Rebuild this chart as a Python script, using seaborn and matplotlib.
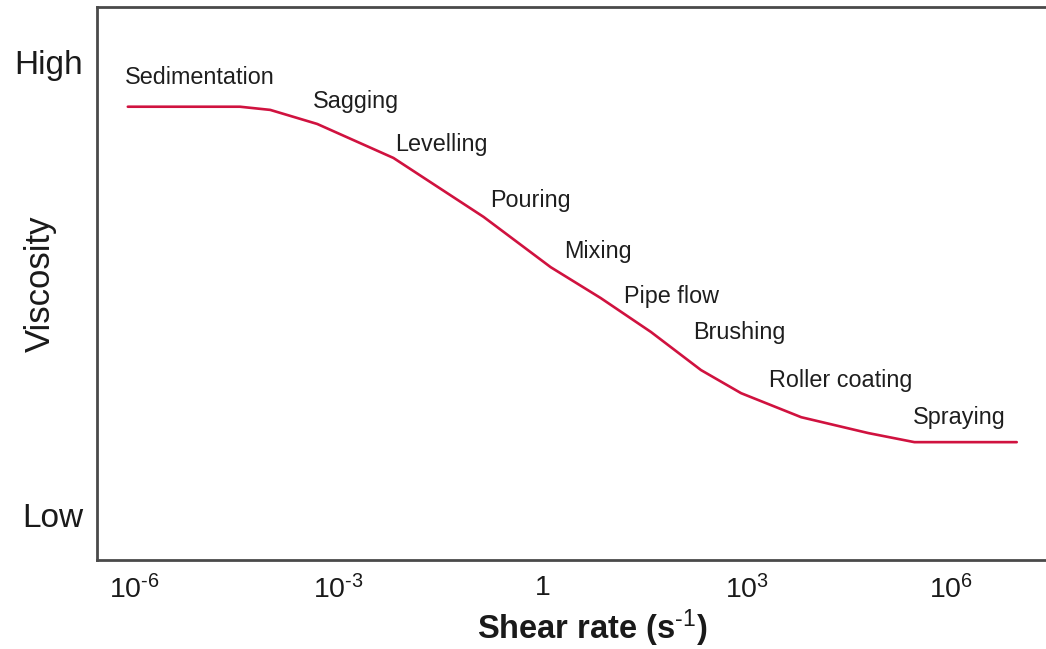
import matplotlib
matplotlib.use("Agg")
import matplotlib.pyplot as plt
import seaborn as sns
import pandas as pd

# Curve data (shear rate in s^-1, relative viscosity 0=Low .. 1=High)
shear_rate = [8.0e-7, 3.56e-5, 9.9e-5, 4.85e-4, 6.4e-3, 0.135, 1.31, 7.1, 39, 212, 824, 6.3e3, 6.1e4, 2.9e5, 9.25e6]
viscosity = [0.901, 0.901, 0.894, 0.863, 0.788, 0.658, 0.547, 0.479, 0.404, 0.320, 0.269, 0.216, 0.181, 0.161, 0.161]

# Process labels and their anchor points (left edge, vertical centre)
processes = ["Sedimentation", "Sagging", "Levelling", "Pouring", "Mixing",
             "Pipe flow", "Brushing", "Roller coating", "Spraying"]
label_x = [7.2e-7, 4.2e-4, 6.8e-3, 0.171, 2.04, 15.6, 162, 2.13e3, 2.8e5]
label_y = [0.965, 0.912, 0.817, 0.695, 0.581, 0.483, 0.404, 0.298, 0.216]

xtick_values = [1e-6, 1e-3, 1, 1e3, 1e6]
xtick_labels = [r"10$^{\text{-6}}$", r"10$^{\text{-3}}$", "1", r"10$^{3}$", r"10$^{6}$"]
ytick_values = [0.0, 1.0]
ytick_labels = ["Low", "High"]

sns.set_theme(style="white")
plt.rcParams["font.family"] = ["Liberation Sans", "DejaVu Sans"]
plt.rcParams["mathtext.fontset"] = "custom"
plt.rcParams["mathtext.rm"] = "Liberation Sans"
plt.rcParams["mathtext.it"] = "Liberation Sans"
plt.rcParams["mathtext.bf"] = "Liberation Sans:bold"

fig = plt.figure(figsize=(10.46, 6.49), dpi=100)
ax_w = 1 - 97 / 1046 + 0.01
ax = fig.add_axes([97 / 1046, 89 / 649, ax_w, (560 - 7) / 649])
ax_w_px = ax_w * 1046
ax_h_px = 553

df = pd.DataFrame({"shear": shear_rate, "visc": viscosity})
sns.lineplot(data=df, x="shear", y="visc", ax=ax, color="#d0123f", linewidth=1.9, sort=False)

ax.set_xscale("log")
ax.set_xlim(10 ** -6.55, 10 ** 7.55)
ax.set_ylim(-0.099, 1.121)

for name, lx, ly in zip(processes, label_x, label_y):
    ax.text(lx, ly, name, fontsize=16.8, color="#1e1e1e", ha="left", va="center")

ax.set_xticks(xtick_values)
ax.set_xticklabels(xtick_labels, fontsize=20.5, color="#1a1a1a")
ax.minorticks_off()
ax.set_yticks(ytick_values)
ax.set_yticklabels(ytick_labels, fontsize=24, color="#1a1a1a")
ax.tick_params(axis="x", length=0, pad=11)
ax.tick_params(axis="y", length=0, pad=10)

ax.set_xlabel(r"Shear rate (s$^{\text{-1}}$)", fontsize=23.5, fontweight="bold", color="#1a1a1a", va="center")
ax.xaxis.set_label_coords((592 - 97) / ax_w_px, (560 - 628) / ax_h_px)
ax.set_ylabel("Viscosity", fontsize=25, color="#1a1a1a", va="center")
ax.yaxis.set_label_coords((40 - 97) / ax_w_px, 0.5)

for side in ["left", "bottom", "top"]:
    ax.spines[side].set_color("#4a4a4a")
    ax.spines[side].set_linewidth(2.0)
ax.spines["right"].set_visible(False)

fig.savefig("out.png", dpi=100)
